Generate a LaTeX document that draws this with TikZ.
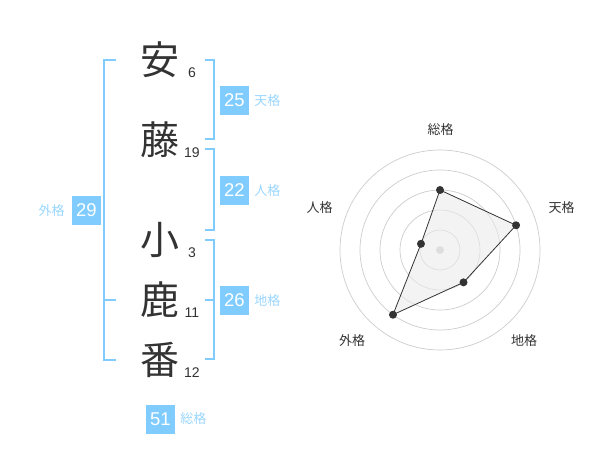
\documentclass[tikz,border=0pt]{standalone}
\usepackage{fontspec}
\setmainfont{Liberation Sans}
\newfontfamily\cjk{Noto Sans CJK JP}
\usepackage{tikz}
\usetikzlibrary{positioning, calc}
\definecolor{kakuBlue}{HTML}{80CCFF}
\definecolor{kakuText}{HTML}{99D6FF}
\definecolor{inkGray}{HTML}{333333}
\definecolor{ringGray}{HTML}{CCCCCC}
\tikzset{kanji/.style={font=\cjk\fontsize{39}{39}\selectfont, text=inkGray, inner sep=0pt}}
\tikzset{strokes/.style={font=\fontsize{14}{14}\selectfont, text=inkGray, inner sep=0pt}}
\tikzset{kakuBox/.style={fill=kakuBlue, text=white, minimum size=29pt, inner sep=0pt, font=\fontsize{18.5}{18.5}\selectfont}}
\tikzset{kakuLabel/.style={text=kakuText, font=\cjk\fontsize{13}{13}\selectfont, inner sep=0pt}}
\tikzset{bracket/.style={draw=kakuBlue, line width=2pt}}
\tikzset{ring/.style={draw=ringGray, line width=0.7pt}}
\tikzset{axisLabel/.style={text=inkGray, font=\cjk\fontsize{13}{13}\selectfont, inner sep=0pt}}
\tikzset{dot/.style={circle, fill=inkGray, minimum size=8pt, inner sep=0pt}}
\begin{document}
\begin{tikzpicture}[x=1pt, y=-1pt]

      \useasboundingbox (0,0) rectangle (600,470);

      % NAME CHARACTERS AND STROKES

      \node[kanji] (c0) at (160,60)  {安};
      \node[kanji] (c1) at (160,140) {藤};
      \node[kanji] (c2) at (160,240) {小};
      \node[kanji] (c3) at (160,300) {鹿};
      \node[kanji] (c4) at (160,360) {番};

      \node[strokes] (s0) at ($(c0.center)+(32,13)$) {6};
      \node[strokes] (s1) at ($(c1.center)+(32,13)$) {19};
      \node[strokes] (s2) at ($(c2.center)+(32,13)$) {3};
      \node[strokes] (s3) at ($(c3.center)+(32,13)$) {11};
      \node[strokes] (s4) at ($(c4.center)+(32,13)$) {12};

      % BRACKETS

      \coordinate (gaiTop) at (104,60);
      \coordinate (gaiMid) at (104,300);
      \coordinate (gaiBot) at (104,360);
      \draw[bracket] ($(gaiTop)+(12,0)$) -- (gaiTop) -- (gaiBot) -- ($(gaiBot)+(12,0)$);
      \draw[bracket] (gaiMid) -- ($(gaiMid)+(12,0)$);

      \coordinate (tenTop) at (214,60);
      \coordinate (tenBot) at (214,139);
      \draw[bracket] ($(tenTop)-(9,0)$) -- (tenTop) -- (tenBot) -- ($(tenBot)-(9,0)$);

      \coordinate (jinTop) at (214,149);
      \coordinate (jinBot) at (214,230);
      \draw[bracket] ($(jinTop)-(9,0)$) -- (jinTop) -- (jinBot) -- ($(jinBot)-(9,0)$);

      \coordinate (chiTop) at (214,240);
      \coordinate (chiMid) at (214,300);
      \coordinate (chiBot) at (214,359);
      \draw[bracket] ($(chiTop)-(9,0)$) -- (chiTop) -- (chiBot) -- ($(chiBot)-(9,0)$);
      \draw[bracket] (chiMid) -- ($(chiMid)-(9,0)$);

      % BOXES AND LABELS

      \node[kakuBox] (tenBox) at (234.5,100.5) {25};
      \node[kakuBox] (jinBox) at (234.5,190.5) {22};
      \node[kakuBox] (chiBox) at (234.5,300.5) {26};
      \node[kakuBox] (gaiBox) at (86.5,210.5)  {29};
      \node[kakuBox] (souBox) at (160.5,419)   {51};

      \node[kakuLabel, right=5pt of tenBox] (tenLabel) {天格};
      \node[kakuLabel, right=5pt of jinBox] (jinLabel) {人格};
      \node[kakuLabel, right=5pt of chiBox] (chiLabel) {地格};
      \node[kakuLabel, left=7pt of gaiBox]  (gaiLabel) {外格};
      \node[kakuLabel, right=5pt of souBox] (souLabel) {総格};

      % RADAR CHART

      \begin{scope}[shift={(440,250)}, yscale=-1]
        \foreach \r in {20,40,...,100}
          \draw[ring] (0,0) circle[radius=\r];
        \node[circle, fill=ringGray, minimum size=8pt, inner sep=0pt] (core) at (0,0) {};

        \coordinate (pSou) at (90:60);
        \coordinate (pTen) at (18:80);
        \coordinate (pChi) at (-54:40);
        \coordinate (pGai) at (-126:80);
        \coordinate (pJin) at (162:20);

        \draw[inkGray, line width=0.8pt, fill=black!8, fill opacity=0.6]
          (pSou) -- (pTen) -- (pChi) -- (pGai) -- (pJin) -- cycle;

        \foreach \p in {pSou, pTen, pChi, pGai, pJin}
          \node[dot] at (\p) {};
      \end{scope}

      % AXIS LABELS

      \node[axisLabel] (souAxis) at (440.5,130) {総格};
      \node[axisLabel] (tenAxis) at (561.5,208) {天格};
      \node[axisLabel] (chiAxis) at (524,341)   {地格};
      \node[axisLabel] (gaiAxis) at (352,341)   {外格};
      \node[axisLabel] (jinAxis) at (319.5,208) {人格};

    \end{tikzpicture}
\end{document}
